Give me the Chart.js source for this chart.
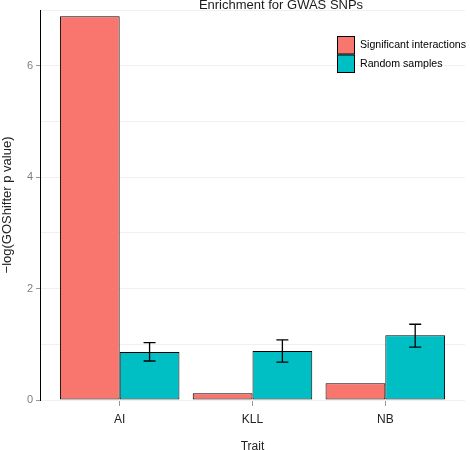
<!DOCTYPE html>
<html><head><meta charset="utf-8">
<script src="https://cdn.jsdelivr.net/npm/chart.js@4"></script>
<style>html,body{margin:0;padding:0;background:#fff}#wrap{width:470px;height:450px}</style>
</head><body><div id="wrap"><canvas id="c" width="470" height="450"></canvas></div>
<script>
const categories = ['AI', 'KLL', 'NB'];
const seriesNames = ['Significant interactions', 'Random samples'];
const significant = [6.89, 0.12, 0.30];
const randomSamples = [0.86, 0.88, 1.16];
const randomErrLow = [0.70, 0.68, 0.95];
const randomErrHigh = [1.03, 1.08, 1.36];
const yTickLabels = [0, 2, 4, 6];
const colors = ['#F8766D', '#00BFC4'];
const FONT = "'Liberation Sans', Arial, sans-serif";

const toPoints = (arr) => arr.map((v, i) => ({ x: i + 1, y: v }));

const errorBars = {
  id: 'errorBars',
  afterDatasetsDraw(chart) {
    const meta = chart.getDatasetMeta(1);
    const y = chart.scales.y;
    const ctx = chart.ctx;
    ctx.save();
    ctx.strokeStyle = '#000';
    ctx.lineWidth = 1.3;
    meta.data.forEach((bar, i) => {
      const x = bar.x;
      const yl = y.getPixelForValue(randomErrLow[i]);
      const yh = y.getPixelForValue(randomErrHigh[i]);
      const w = 6;
      ctx.beginPath();
      ctx.moveTo(x, yl); ctx.lineTo(x, yh);
      ctx.moveTo(x - w, yl); ctx.lineTo(x + w, yl);
      ctx.moveTo(x - w, yh); ctx.lineTo(x + w, yh);
      ctx.stroke();
    });
    ctx.restore();
  }
};

const decorations = {
  id: 'decorations',
  afterDraw(chart) {
    const ctx = chart.ctx;
    ctx.save();
    ctx.fillStyle = '#1a1a1a';
    ctx.font = '13px ' + FONT;
    ctx.textAlign = 'center';
    ctx.textBaseline = 'middle';
    ctx.fillText('Enrichment for GWAS SNPs', 281, 5);
    const lx = 337, ly = 36, bw = 18, bh = 18.5;
    seriesNames.forEach((name, i) => {
      const yy = ly + i * bh;
      ctx.fillStyle = colors[i];
      ctx.fillRect(lx, yy, bw, bh);
      ctx.strokeStyle = '#000';
      ctx.lineWidth = 1;
      ctx.strokeRect(lx + 0.5, yy + 0.5, bw - 1, bh - 1);
      ctx.fillStyle = '#000';
      ctx.font = '10.6px ' + FONT;
      ctx.textAlign = 'left';
      ctx.fillText(name, lx + 23, yy + bh / 2);
    });
    ctx.restore();
  }
};

new Chart(document.getElementById('c'), {
  type: 'bar',
  data: {
    datasets: [
      { label: seriesNames[0], data: toPoints(significant), backgroundColor: colors[0], borderColor: '#000', borderWidth: 1, borderSkipped: false, categoryPercentage: 0.9, barPercentage: 1.0 },
      { label: seriesNames[1], data: toPoints(randomSamples), backgroundColor: colors[1], borderColor: '#000', borderWidth: 1, borderSkipped: false, categoryPercentage: 0.9, barPercentage: 1.0 }
    ]
  },
  options: {
    responsive: false,
    animation: false,
    events: [],
    layout: { padding: { top: 10, right: 5, left: 0, bottom: 0 } },
    plugins: { legend: { display: false }, tooltip: { enabled: false }, title: { display: false } },
    scales: {
      x: {
        type: 'linear', min: 0.4, max: 3.6, offset: false,
        afterBuildTicks(s) { s.ticks = categories.map((_, i) => ({ value: i + 1 })); },
        border: { display: false },
        grid: { offset: false, drawOnChartArea: false, drawTicks: true, tickLength: 6, tickColor: '#999' },
        ticks: { color: '#222', font: { family: FONT, size: 12 }, padding: 6, autoSkip: false, maxRotation: 0,
          callback: (v) => categories[Math.round(v) - 1] ?? '' },
        title: { display: true, text: 'Trait', color: '#222', font: { family: FONT, size: 12 }, padding: { top: 16, bottom: -4 } },
        afterFit(s) { s.height = 50; }
      },
      y: {
        min: 0, max: 7,
        border: { display: true, color: '#000', width: 1 },
        grid: {
          color: '#f0f0f0', lineWidth: 1, drawTicks: true, tickLength: 4,
          tickColor: (c) => (c.tick && yTickLabels.includes(c.tick.value)) ? '#999' : 'rgba(0,0,0,0)'
        },
        ticks: {
          stepSize: 1, color: '#7f7f7f', font: { family: FONT, size: 11 }, padding: 3,
          callback: (v) => yTickLabels.includes(v) ? String(v) : ''
        },
        title: { display: true, text: '\u2212log(GOShifter p value)', color: '#222', font: { family: FONT, size: 13 }, padding: { bottom: 0, top: 0 } },
        afterFit(s) { s.width = 40; }
      }
    }
  },
  plugins: [errorBars, decorations]
});
</script></body></html>
